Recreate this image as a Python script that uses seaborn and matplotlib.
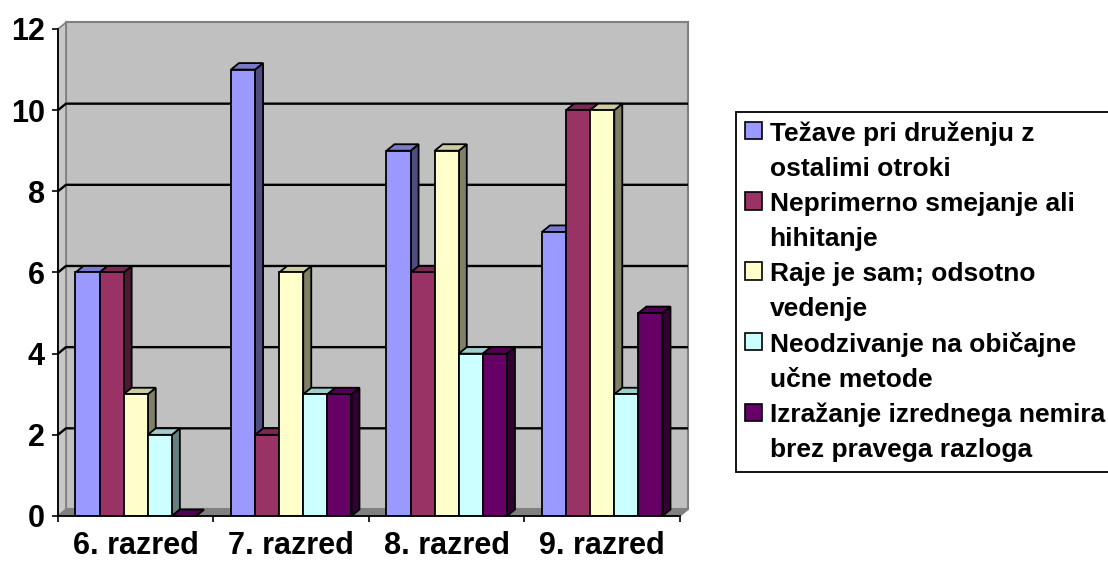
import matplotlib
matplotlib.use("Agg")
import matplotlib.pyplot as plt
from matplotlib.patches import Polygon, Rectangle
from matplotlib.legend_handler import HandlerPatch
from matplotlib.colors import to_rgb
import pandas as pd
import seaborn as sns

# --- data ---
grades = ["6. razred", "7. razred", "8. razred", "9. razred"]
series_labels = [
    "Težave pri druženju z\nostalimi otroki",
    "Neprimerno smejanje ali\nhihitanje",
    "Raje je sam; odsotno\nvedenje",
    "Neodzivanje na običajne\nučne metode",
    "Izražanje izrednega nemira\nbrez pravega razloga",
]
social = [6, 11, 9, 7]
laughing = [6, 2, 6, 10]
alone = [3, 6, 9, 10]
no_response = [2, 3, 4, 3]
restless = [0, 3, 4, 5]
colors = ["#9999FF", "#993366", "#FFFFCC", "#CCFFFF", "#660066"]
y_ticks = [0, 2, 4, 6, 8, 10, 12]

rows = []
for label, values in zip(series_labels, [social, laughing, alone, no_response, restless]):
    for grade, v in zip(grades, values):
        rows.append({"grade": grade, "count": v, "series": label})
df = pd.DataFrame(rows)

sns.set_theme(style="white")
plt.rcParams["font.family"] = ["Liberation Sans", "DejaVu Sans"]
plt.rcParams["text.color"] = "black"
plt.rcParams["xtick.color"] = "black"
plt.rcParams["ytick.color"] = "black"

DPI = 100
fig = plt.figure(figsize=(11.08, 5.63), dpi=DPI)
ax = fig.add_axes([0.0523, 0.0835, 0.5614, 0.865])
ax.set_facecolor("none")

sns.barplot(
    data=df, x="grade", y="count", hue="series",
    order=grades, hue_order=series_labels, palette=colors,
    width=0.775, saturation=1, edgecolor="black", linewidth=1.3, ax=ax,
)
# keep only the real bars (seaborn may add empty helper patches)
bars = sorted([p for p in ax.patches if p.get_width() > 0], key=lambda p: p.get_x())

ax.set_xlim(-0.5, len(grades) - 0.5)
ax.set_ylim(0, max(y_ticks))

# depth offset of the pseudo-3D look, pixels -> data units
ax_w = fig.get_figwidth() * DPI * ax.get_position().width
ax_h = fig.get_figheight() * DPI * ax.get_position().height
dx = 8 * (len(grades)) / ax_w
dy = 6.5 * max(y_ticks) / ax_h
x_lo, x_hi = ax.get_xlim()
y_hi = max(y_ticks)

# back wall, side wall, floor
wall = Polygon([(x_lo + dx, dy), (x_hi + dx, dy), (x_hi + dx, y_hi + dy), (x_lo + dx, y_hi + dy)],
               closed=True, facecolor="#C0C0C0", edgecolor="#808080", linewidth=1.5,
               clip_on=False, zorder=0.5)
side_wall = Polygon([(x_lo, 0), (x_lo + dx, dy), (x_lo + dx, y_hi + dy), (x_lo, y_hi)],
                    closed=True, facecolor="#C8C8C8", edgecolor="#808080", linewidth=1.2,
                    clip_on=False, zorder=0.6)
floor = Polygon([(x_lo, 0), (x_hi, 0), (x_hi + dx, dy), (x_lo + dx, dy)],
                closed=True, facecolor="#808080", edgecolor="#808080", linewidth=1,
                clip_on=False, zorder=0.7)
for patch in (wall, side_wall, floor):
    ax.add_patch(patch)

for v in y_ticks[1:-1]:
    ax.plot([x_lo, x_lo + dx, x_hi + dx], [v, v + dy, v + dy], color="black",
            linewidth=1.7, clip_on=False, zorder=1, solid_capstyle="butt")


def shade(c, f):
    r, g, b = to_rgb(c)
    return (r * f, g * f, b * f)


# side and top faces for each bar, drawn left to right
for i, p in enumerate(bars):
    x0, w, h = p.get_x(), p.get_width(), p.get_height()
    fc = p.get_facecolor()
    base = 3 + 3 * i
    side = Polygon([(x0 + w, 0), (x0 + w + dx, dy), (x0 + w + dx, h + dy), (x0 + w, h)],
                   closed=True, facecolor=shade(fc, 0.5), edgecolor="black",
                   linewidth=1.3, clip_on=False, zorder=base)
    top = Polygon([(x0, h), (x0 + dx, h + dy), (x0 + w + dx, h + dy), (x0 + w, h)],
                  closed=True, facecolor=shade(fc, 0.8), edgecolor="black",
                  linewidth=1.3, clip_on=False, zorder=base + 1)
    ax.add_patch(side)
    ax.add_patch(top)
    p.set_zorder(base + 2)

# axes styling
for s in ("top", "right"):
    ax.spines[s].set_visible(False)
for s in ("left", "bottom"):
    ax.spines[s].set_color("black")
    ax.spines[s].set_linewidth(1.3)
    ax.spines[s].set_zorder(200)

ax.set_yticks(y_ticks)
ax.set_yticklabels([str(t) for t in y_ticks], fontsize=22, fontweight="bold")
ax.set_xticks(range(len(grades)))
ax.set_xticklabels(grades, fontsize=22, fontweight="bold")
ax.set_xticks([k - 0.5 for k in range(len(grades) + 1)], minor=True)
ax.tick_params(axis="y", which="major", left=True, length=4.5, width=1.2,
               color="black", labelcolor="black", pad=5)
ax.tick_params(axis="x", which="major", bottom=True, length=0, pad=11, labelcolor="black")
ax.tick_params(axis="x", which="minor", bottom=True, length=4.5, width=1.2, color="black")
ax.set_xlabel("")
ax.set_ylabel("")


class TopAlignedHandler(HandlerPatch):
    def create_artists(self, legend, orig_handle, xdescent, ydescent,
                       width, height, fontsize, trans):
        shift = 0.78 * fontsize
        r = Rectangle((-xdescent, -ydescent + shift), width, height,
                      facecolor=orig_handle.get_facecolor(), edgecolor="black",
                      linewidth=1.2, transform=trans)
        return [r]


old = ax.get_legend()
handles = list(old.legend_handles)
labels = [t.get_text() for t in old.get_texts()]
old.remove()
leg = ax.legend(
    handles, labels,
    handler_map={type(h): TopAlignedHandler() for h in handles},
    loc="upper left", bbox_to_anchor=(736 / 1108, 1 - 112 / 563),
    bbox_transform=fig.transFigure, prop={"weight": "bold", "size": 19},
    frameon=True, fancybox=False, edgecolor="black", framealpha=1,
    handlelength=0.62, handleheight=0.62, handletextpad=0.3,
    labelspacing=0.4, borderpad=0.35, borderaxespad=0,
)
for t in leg.get_texts():
    t.set_linespacing(1.6)
    t.set_color("black")
leg.get_frame().set_linewidth(1.3)
leg.set_zorder(300)

fig.savefig("out.png", dpi=DPI)
